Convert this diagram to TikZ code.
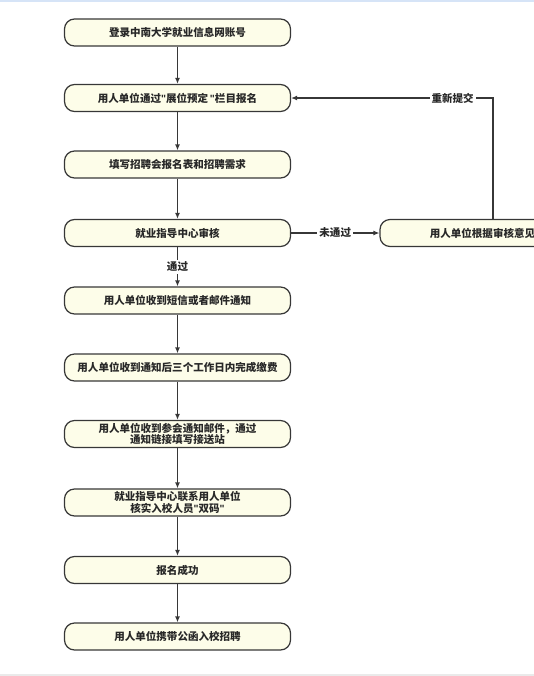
\documentclass[tikz,border=0pt]{standalone}
\usepackage{fontspec}
\setmainfont{Noto Sans CJK SC}
\newfontfamily\latina{Liberation Sans}
\newcommand{\comilla}{{\latina\bfseries\char34}}
\usetikzlibrary{arrows.meta}

\definecolor{cajaFondo}{RGB}{253,253,233}
\definecolor{lineaGris}{RGB}{55,55,55}
\definecolor{textoGris}{RGB}{40,40,40}
\definecolor{bordeAzul}{RGB}{214,228,247}
\definecolor{bordeGris}{RGB}{234,234,234}

\tikzset{
  paso/.style={draw=lineaGris, line width=0.9pt, fill=cajaFondo, rounded corners=7.5pt,
    minimum width=169.5pt, minimum height=20.25pt, inner sep=2pt, align=center,
    text=textoGris, font=\fontsize{7.9pt}{8.4pt}\selectfont\bfseries},
  flecha/.style={->, line width=0.9pt, draw=lineaGris},
  etiqueta/.style={fill=white, inner sep=1.5pt, text=textoGris,
    font=\fontsize{7.9pt}{8.4pt}\selectfont\bfseries}
}

\begin{document}
\begin{tikzpicture}[x=0.75pt, y=-0.75pt, >={Latex[length=4.5pt,width=3.8pt]}]
  \useasboundingbox (0,0) rectangle (534,676);
  % Bordes
  \fill[bordeAzul] (0,0) rectangle (534,2);
  \fill[bordeGris] (0,673.5) rectangle (534,676);

  % Pasos
  \node[paso] (cuenta) at (177.5,32.5) {登录中南大学就业信息网账号};
  \node[paso] (reserva) at (177.5,98) {用人单位通过\comilla 展位预定\,\comilla 栏目报名};
  \node[paso] (formulario) at (177.5,164.5) {填写招聘会报名表和招聘需求};
  \node[paso] (revision) at (177.5,233) {就业指导中心审核};
  \node[paso] (aviso) at (177.5,300.5) {用人单位收到短信或者邮件通知};
  \node[paso] (pago) at (177.5,367.5) {用人单位收到通知后三个工作日内完成缴费};
  \node[paso] (enlace) at (177.5,434) {用人单位收到参会通知邮件，通过\\通知链接填写接送站};
  \node[paso] (codigo) at (177.5,502.5) {就业指导中心联系用人单位\\核实入校人员\comilla 双码\comilla};
  \node[paso] (exito) at (177.5,570) {报名成功};
  \node[paso] (ingreso) at (177.5,636.5) {用人单位携带公函入校招聘};

  % Rama de correccion
  \node[paso, text width=94.8pt, align=left] (correccion) at (493,233) {用人单位根据审核意见};

  % Flechas
  \draw[flecha] (cuenta) -- (reserva);
  \draw[flecha] (reserva) -- (formulario);
  \draw[flecha] (formulario) -- (revision);
  \draw[flecha] (revision) -- node[etiqueta] {通过} (aviso);
  \draw[flecha] (aviso) -- (pago);
  \draw[flecha] (pago) -- (enlace);
  \draw[flecha] (enlace) -- (codigo);
  \draw[flecha] (codigo) -- (exito);
  \draw[flecha] (exito) -- (ingreso);

  % No aprobado y reenvio
  \draw[flecha] (revision) -- node[etiqueta] {未通过} (correccion);
  \draw[flecha] (correccion.north) |- node[etiqueta, pos=0.6] {重新提交} (reserva.east);
\end{tikzpicture}
\end{document}
